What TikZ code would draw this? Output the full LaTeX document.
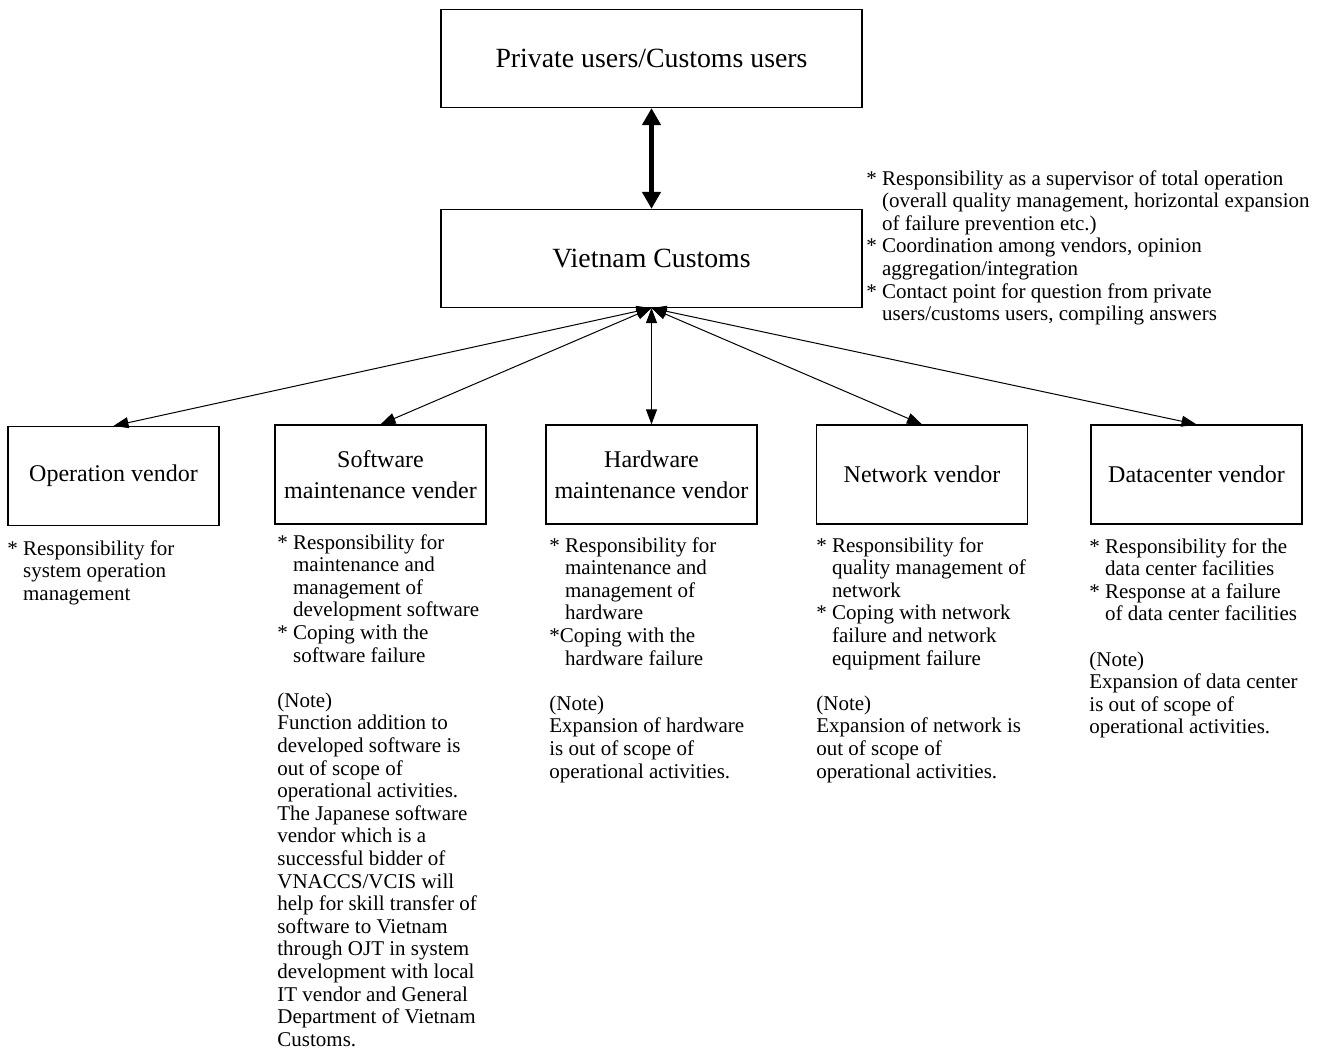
\documentclass[tikz,border=0pt]{standalone}
\usepackage{fontspec}
\setmainfont{Liberation Serif}
\usetikzlibrary{arrows.meta}
\newcommand{\hangind}{\hphantom{*~}}
\begin{document}
\begin{tikzpicture}[
    x=0.5pt, y=-0.5pt,
    >={Triangle[length=7.5pt,width=5.5pt]},
    topbox/.style={
        draw, line width=0.6pt, rectangle, minimum width=210.5pt, minimum height=49pt,
        align=center, inner sep=0pt, font=\fontsize{13.9}{16}\selectfont
    },
    vendor/.style={
        draw, line width=0.6pt, rectangle, minimum width=105.5pt, minimum height=49.5pt,
        align=center, inner sep=0pt, font=\fontsize{12}{15.5}\selectfont
    },
    note/.style={
        anchor=north west, align=left, inner sep=0pt, font=\fontsize{10.5}{11.3}\selectfont
    },
    link/.style={<->, line width=0.5pt},
    mainlink/.style={
        {Triangle[length=8.5pt,width=9pt]}-{Triangle[length=8.5pt,width=9pt]}, line width=2.5pt
    }
]
\useasboundingbox (0,0) rectangle (1338,1053);

\node[topbox] (users) at (651.5,58.5) {Private users/Customs users};
\node[topbox] (vc) at (651.5,258.5) {Vietnam Customs};

\node[vendor] (operation) at (113.5,476) {Operation vendor};
\node[vendor] (software) at (380.5,474.5) {Software\\maintenance vender};
\node[vendor] (hardware) at (651.5,474.5) {Hardware\\maintenance vendor};
\node[vendor] (network) at (922,474.5) {Network vendor};
\node[vendor] (datacenter) at (1196.5,474.5) {Datacenter vendor};

\node[note] (vcnote) at (866,170) {* Responsibility as a supervisor of total operation\\
    \hangind (overall quality management, horizontal expansion\\
    \hangind of failure prevention etc.)\\
    * Coordination among vendors, opinion\\
    \hangind aggregation/integration\\
    * Contact point for question from private\\
    \hangind users/customs users, compiling answers};

\node[note] (opnote) at (7,540) {* Responsibility for\\
    \hangind system operation\\
    \hangind management};

\node[note] (swnote) at (277,534) {* Responsibility for\\
    \hangind maintenance and\\
    \hangind management of\\
    \hangind development software\\
    * Coping with the\\
    \hangind software failure\\[11.3pt]
    (Note)\\Function addition to\\developed software is\\out of scope of\\operational activities.\\
    The Japanese software\\vendor which is a\\successful bidder of\\VNACCS/VCIS will\\
    help for skill transfer of\\software to Vietnam\\through OJT in system\\
    development with local\\IT vendor and General\\Department of Vietnam\\Customs.};

\node[note] (hwnote) at (549,537) {* Responsibility for\\
    \hangind maintenance and\\
    \hangind management of\\
    \hangind hardware\\
    *Coping with the\\
    \hangind hardware failure\\[11.3pt]
    (Note)\\Expansion of hardware\\is out of scope of\\operational activities.};

\node[note] (netnote) at (816,537) {* Responsibility for\\
    \hangind quality management of\\
    \hangind network\\
    * Coping with network\\
    \hangind failure and network\\
    \hangind equipment failure\\[11.3pt]
    (Note)\\Expansion of network is\\out of scope of\\operational activities.};

\node[note] (dcnote) at (1089,538) {* Responsibility for the\\
    \hangind data center facilities\\
    * Response at a failure\\
    \hangind of data center facilities\\[11.3pt]
    (Note)\\Expansion of data center\\is out of scope of\\operational activities.};

\draw[mainlink] (users.south) -- (vc.north);
\draw[link] (vc.south) -- (operation.north);
\draw[link] (vc.south) -- (software.north);
\draw[link] (vc.south) -- (hardware.north);
\draw[link] (vc.south) -- (network.north);
\draw[link] (vc.south) -- (datacenter.north);
\end{tikzpicture}
\end{document}
